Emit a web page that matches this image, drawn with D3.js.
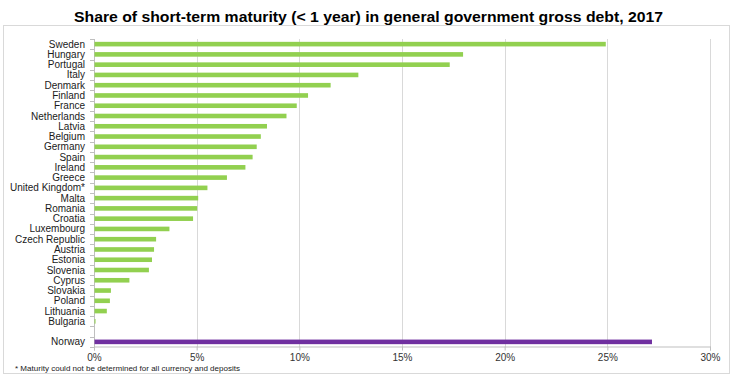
<!DOCTYPE html>
<html>
<head>
<meta charset="utf-8">
<script src="https://cdn.jsdelivr.net/npm/d3@7"></script>
<style>
  html, body { margin: 0; padding: 0; background: #fff; }
  svg { display: block; }
</style>
</head>
<body>
<svg id="chart" width="740" height="381"></svg>
<script>
const title = "Share of short-term maturity (< 1 year) in general government gross debt, 2017";
const footnote = "* Maturity could not be determined for all currency and deposits";
const countries = ["Sweden","Hungary","Portugal","Italy","Denmark","Finland","France","Netherlands","Latvia","Belgium","Germany","Spain","Ireland","Greece","United Kingdom*","Malta","Romania","Croatia","Luxembourg","Czech Republic","Austria","Estonia","Slovenia","Cyprus","Slovakia","Poland","Lithuania","Bulgaria","","Norway"];
const values = [24.9,17.95,17.3,12.85,11.5,10.4,9.85,9.35,8.4,8.1,7.9,7.7,7.35,6.45,5.5,5.05,5.0,4.8,3.65,3.0,2.9,2.8,2.65,1.7,0.8,0.75,0.6,0.05,null,27.15];
const groups = ["EU","EU","EU","EU","EU","EU","EU","EU","EU","EU","EU","EU","EU","EU","EU","EU","EU","EU","EU","EU","EU","EU","EU","EU","EU","EU","EU","EU","gap","Other"];
const xTicks = [0,5,10,15,20,25,30];

const colors = {EU: "#92D050", Other: "#7030A0"};
const svg = d3.select("#chart");

// outer frame
svg.append("rect").attr("x",3.5).attr("y",25.5).attr("width",726).attr("height",348)
  .attr("fill","none").attr("stroke","#d9d9d9").attr("stroke-width",1);

svg.append("text").attr("x",368.5).attr("y",22)
  .attr("text-anchor","middle")
  .attr("font-family","Liberation Sans, Arial, sans-serif")
  .attr("font-weight","bold").attr("font-size",15)
  .attr("textLength",589).attr("lengthAdjust","spacingAndGlyphs")
  .attr("fill","#000").text(title);

const keys = countries.map((c,i)=> c === "" ? "__gap"+i : c);
const x = d3.scaleLinear().domain([0,30]).range([94,710]);
const y = d3.scaleBand().domain(keys).range([39,347]).padding(0);

// gridlines
svg.append("g").selectAll("line").data(xTicks.filter(t=>t>0)).join("line")
  .attr("x1",d=>Math.round(x(d))+0.5).attr("x2",d=>Math.round(x(d))+0.5)
  .attr("y1",39).attr("y2",347)
  .attr("stroke","#d9d9d9").attr("stroke-width",1);

// bottom axis
const xAxis = d3.axisBottom(x).tickValues(xTicks).tickFormat(d=>d+"%").tickSize(4).tickPadding(3);
const gx = svg.append("g").attr("transform","translate(0,346.5)").call(xAxis);
gx.select(".domain").attr("stroke","#bfbfbf");
gx.selectAll(".tick line").attr("stroke","#bfbfbf");
gx.selectAll(".tick text").attr("font-family","Liberation Sans, Arial, sans-serif")
  .attr("font-size",10).attr("fill","#333");

// left axis (ticks at band boundaries)
const gy = svg.append("g");
gy.append("line").attr("x1",94.5).attr("x2",94.5).attr("y1",39).attr("y2",347)
  .attr("stroke","#bfbfbf");
const bounds = keys.map(k=>y(k)).concat([y.range()[1]]);
gy.selectAll("line.tk").data(bounds).join("line").attr("class","tk")
  .attr("x1",90).attr("x2",94.5)
  .attr("y1",d=>Math.round(d)+0.5).attr("y2",d=>Math.round(d)+0.5)
  .attr("stroke","#bfbfbf");

// labels
svg.append("g").selectAll("text").data(keys.map((k,i)=>({k, name: countries[i]})).filter(d=>d.name!==""))
  .join("text")
  .attr("x",85).attr("y",d=>y(d.k)+y.bandwidth()/2)
  .attr("dy","0.35em").attr("text-anchor","end")
  .attr("font-family","Liberation Sans, Arial, sans-serif").attr("font-size",10)
  .attr("fill","#1a1a1a").text(d=>d.name);

// bars
const barH = 4.6;
svg.append("g").selectAll("rect")
  .data(keys.map((k,i)=>({k, v: values[i], g: groups[i]})).filter(d=>d.v!==null))
  .join("rect")
  .attr("x",x(0)+0.5)
  .attr("y",d=>y(d.k)+y.bandwidth()/2-barH/2)
  .attr("width",d=>Math.max(0,x(d.v)-x(0)))
  .attr("height",barH)
  .attr("fill",d=>colors[d.g]);

// footnote
svg.append("text").attr("x",15).attr("y",371)
  .attr("font-family","Liberation Sans, Arial, sans-serif").attr("font-size",8)
  .attr("textLength",225).attr("lengthAdjust","spacingAndGlyphs")
  .attr("fill","#1a1a1a").text(footnote);
</script>
</body>
</html>
